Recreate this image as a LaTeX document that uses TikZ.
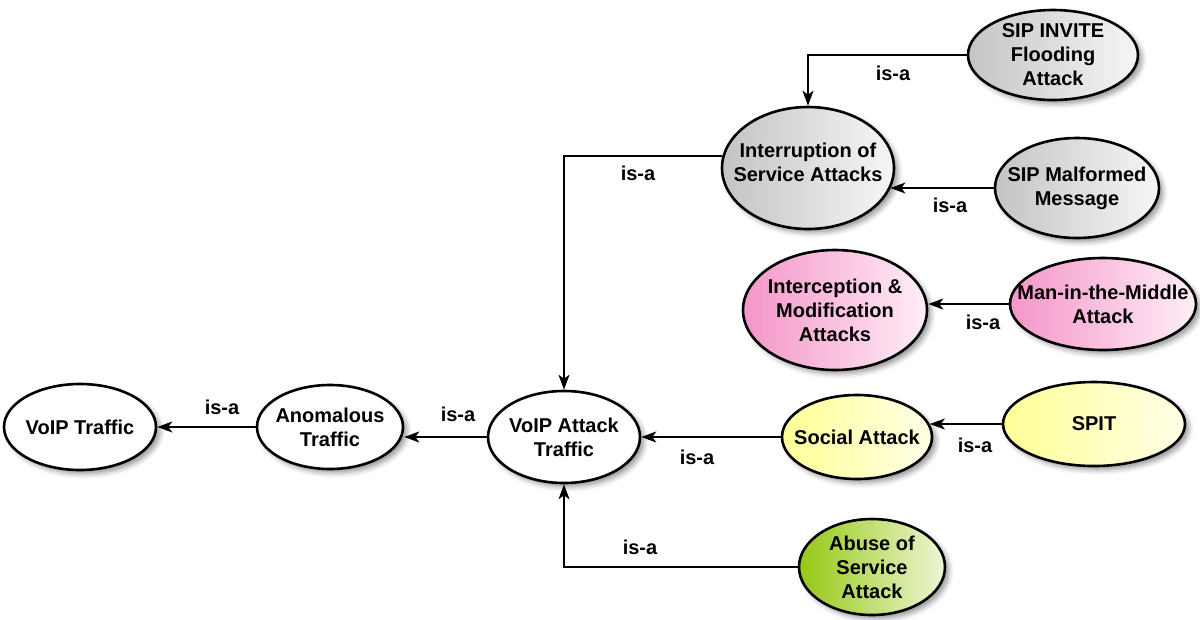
\documentclass[tikz,border=0pt]{standalone}
\usepackage{fontspec}
\setmainfont{Liberation Sans}
\usetikzlibrary{shapes.geometric,arrows.meta,shadows.blur}

\definecolor{grayL}{RGB}{196,196,196}
\definecolor{grayR}{RGB}{246,246,246}
\definecolor{pinkL}{RGB}{244,150,200}
\definecolor{pinkR}{RGB}{255,238,247}
\definecolor{yelL}{RGB}{255,255,150}
\definecolor{yelR}{RGB}{255,255,232}
\definecolor{grnL}{RGB}{150,200,20}
\definecolor{grnR}{RGB}{238,246,214}

\tikzset{
  concept/.style={ellipse, draw=black, line width=2.6pt,
    inner xsep=-30pt, inner ysep=-20pt,
    align=center, font=\fontsize{20}{24}\selectfont\bfseries,
    blur shadow={shadow xshift=4pt, shadow yshift=-4pt, shadow opacity=40, shadow blur radius=5pt}},
  esize/.style 2 args={minimum width=#1pt, minimum height=#2pt},
  plain/.style={concept, fill=white},
  grayfill/.style={concept, left color=grayL, right color=grayR},
  pinkfill/.style={concept, left color=pinkL, right color=pinkR},
  yelfill/.style={concept, left color=yelL, right color=yelR},
  grnfill/.style={concept, left color=grnL, right color=grnR},
  isa/.style={line width=1.6pt, -{Stealth[length=15pt,width=11pt,inset=4pt]}},
  lbl/.style={font=\fontsize{20}{24}\selectfont\bfseries, inner sep=0pt}
}

\begin{document}
\begin{tikzpicture}[x=1pt,y=-1pt]
\useasboundingbox (0,0) rectangle (1200,619);

% concepts
\node[plain, esize={152}{86}]     (traffic)   at (80,427)   {VoIP Traffic};
\node[plain, esize={146}{84}]     (anom)      at (330,427)  {Anomalous\\Traffic};
\node[plain, esize={152}{92}]     (attack)    at (564,437)  {VoIP Attack\\Traffic};
\node[yelfill, esize={150}{84}]   (social)    at (857,437)  {Social Attack};
\node[yelfill, esize={182}{84}]   (spit)      at (1094,424) {SPIT};
\node[pinkfill, esize={184}{120}] (intercept) at (835,310)  {Interception \&\\Modification\\Attacks};
\node[pinkfill, esize={186}{92}]  (mitm)      at (1103,304) {Man-in-the-Middle\\Attack};
\node[grayfill, esize={172}{122}] (interrupt) at (808,168)  {\raisebox{12pt}{\shortstack{Interruption of\\[2pt]Service Attacks}}};
\node[grayfill, esize={164}{100}] (malformed) at (1077,188) {SIP Malformed\\Message};
\node[grayfill, esize={170}{90}]  (invite)    at (1053,55)  {SIP INVITE\\Flooding\\Attack};
\node[grnfill, esize={146}{96}]   (abuse)     at (872,567)  {Abuse of\\Service\\Attack};

% is-a relations
\draw[isa] (invite.west) -| (interrupt.north);
\draw[isa] (malformed.west) -- (malformed.west -| interrupt.-14);
\draw[isa] (interrupt.172) -| (attack.north);
\draw[isa] (mitm.west) -- (mitm.west -| intercept.east);
\draw[isa] (spit.west) -- (spit.west -| social.10);
\draw[isa] (social.west) -- (attack.east);
\draw[isa] (abuse.west) -| (attack.south);
\draw[isa] (attack.west) -- (attack.west -| anom.east);
\draw[isa] (anom.west) -- (traffic.east);

% relation labels
\node[lbl] (l1) at (893,73)  {is-a};
\node[lbl] (l2) at (950,205) {is-a};
\node[lbl] (l3) at (638,173) {is-a};
\node[lbl] (l4) at (983,322) {is-a};
\node[lbl] (l5) at (975,445) {is-a};
\node[lbl] (l6) at (697,457) {is-a};
\node[lbl] (l7) at (640,547) {is-a};
\node[lbl] (l8) at (458,414) {is-a};
\node[lbl] (l9) at (222,407) {is-a};
\end{tikzpicture}
\end{document}
